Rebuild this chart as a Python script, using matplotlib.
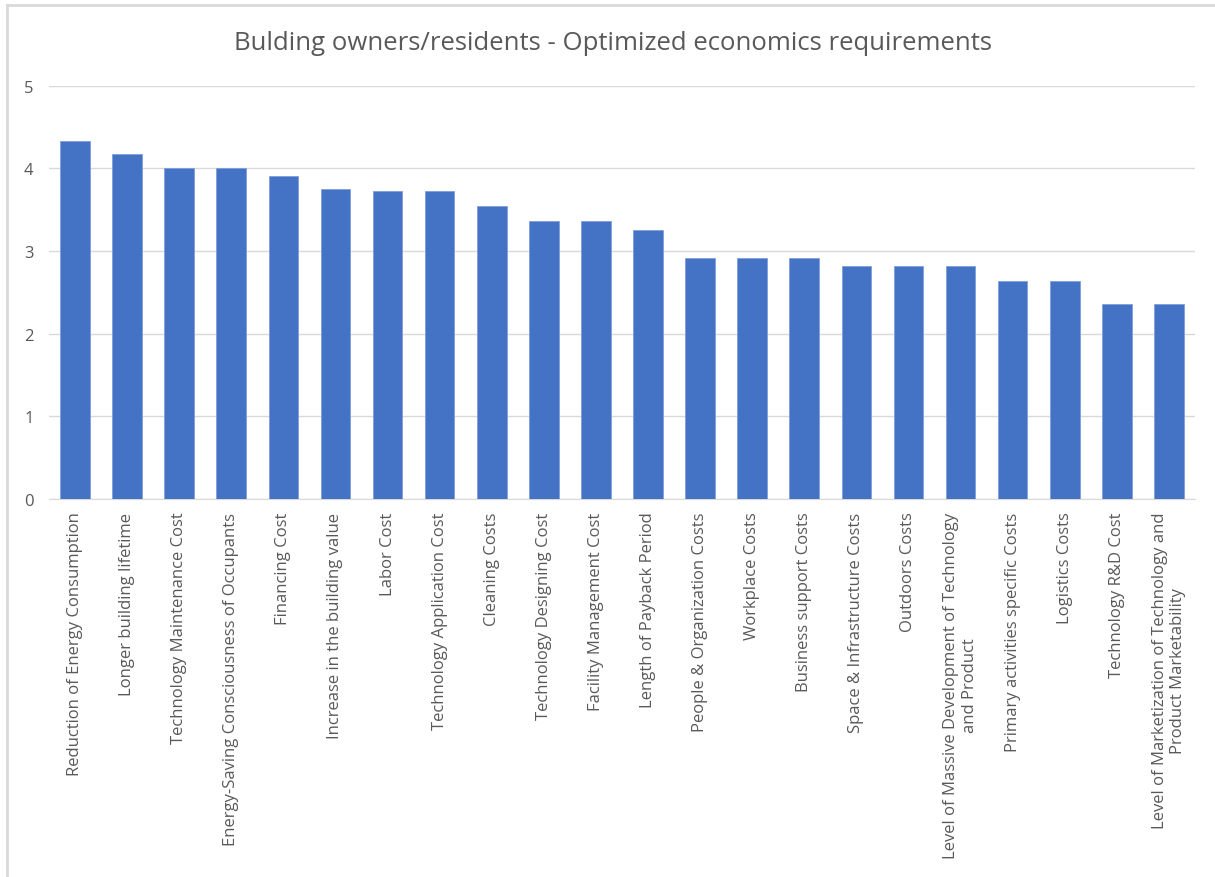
import matplotlib
matplotlib.use("Agg")
import matplotlib.pyplot as plt
from matplotlib.lines import Line2D

# mean scores per requirement
categories = [
    "Reduction of Energy Consumption",
    "Longer building lifetime",
    "Technology Maintenance Cost",
    "Energy-Saving Consciousness of Occupants",
    "Financing Cost",
    "Increase in the building value",
    "Labor Cost",
    "Technology Application Cost",
    "Cleaning Costs",
    "Technology Designing Cost",
    "Facility Management Cost",
    "Length of Payback Period",
    "People & Organization Costs",
    "Workplace Costs",
    "Business support Costs",
    "Space & Infrastructure Costs",
    "Outdoors Costs",
    "Level of Massive Development of Technology\nand Product",
    "Primary activities specific Costs",
    "Logistics Costs",
    "Technology R&D Cost",
    "Level of Marketization of Technology and\nProduct Marketability",
]
scores = [4.33, 4.17, 4.00, 4.00, 3.91, 3.75, 3.73, 3.73, 3.55, 3.36, 3.36,
          3.25, 2.91, 2.91, 2.91, 2.82, 2.82, 2.82, 2.64, 2.64, 2.36, 2.36]
yticks = [0, 1, 2, 3, 4, 5]

title = "Bulding owners/residents - Optimized economics requirements"

txt = "#595959"
plt.rcParams["font.family"] = ["Open Sans", "DejaVu Sans"]

fig = plt.figure(figsize=(12.15, 8.78), dpi=100)
ax = fig.add_axes([0.0403, 0.4305, 0.9432, 0.4708])

x = range(len(categories))
ax.bar(x, scores, width=0.57, color="#4472C4", edgecolor="#7F9FDA",
       linewidth=0.6, zorder=3)

ax.set_xlim(-0.5, len(categories) - 0.5)
ax.set_ylim(0, 5)
ax.set_yticks(yticks)
ax.set_yticklabels([str(t) for t in yticks], fontsize=12, color=txt)
ax.yaxis.grid(True, color="#D9D9D9", linewidth=1.0, zorder=0)
ax.tick_params(axis="both", length=0)
ax.tick_params(axis="y", pad=11)

ax.set_xticks(list(x))
ax.set_xticklabels(categories, rotation=90, fontsize=12, color=txt,
                   ha="center", va="top", multialignment="center")
ax.tick_params(axis="x", pad=9)

for s in ["top", "right", "left"]:
    ax.spines[s].set_visible(False)
ax.spines["bottom"].set_color("#D9D9D9")

fig.text(0.5047, 0.950, title, ha="center", va="center", fontsize=18.5,
         color=txt)

# chart frame (top and left edges)
fig.add_artist(Line2D([0.0057, 1.0], [0.9937, 0.9937], color="#D9D9D9",
                      linewidth=2, transform=fig.transFigure))
fig.add_artist(Line2D([0.0057, 0.0057], [0.0, 0.9937], color="#D9D9D9",
                      linewidth=2, transform=fig.transFigure))

fig.savefig("out.png", dpi=100, facecolor="white")
